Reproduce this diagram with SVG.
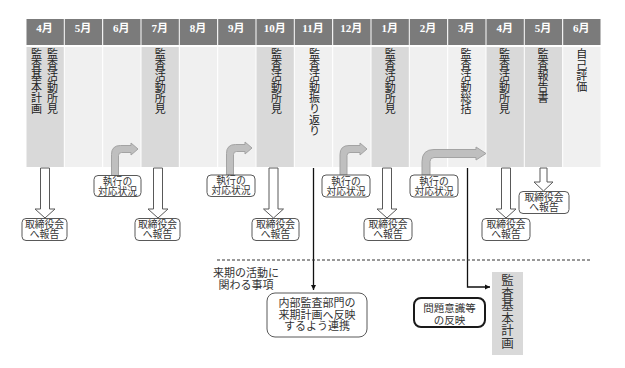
<svg xmlns="http://www.w3.org/2000/svg" width="625" height="368" viewBox="0 0 625 368">
<style>
.hd{fill:#7b7b7b}
.lt{fill:#f0f0f0}
.dk{fill:#d9d9d9}
.ht{font-family:"Liberation Serif","Noto Sans CJK JP",serif;font-size:11px;font-weight:bold;fill:#fff;text-anchor:middle}
.vt{font-family:"Noto Sans CJK JP",sans-serif;font-size:11px;fill:#222;writing-mode:vertical-rl}
.bx{fill:#fff;stroke:#595959;stroke-width:1}
.bt{font-family:"Noto Sans CJK JP",sans-serif;font-size:9.8px;fill:#333;text-anchor:middle}
.da{fill:#fff;stroke:#595959;stroke-width:1}
.ba{fill:#bfbfbf;stroke:#a3a3a3;stroke-width:1}
.ln{fill:none;stroke:#111;stroke-width:1.3}
.tx{font-family:"Noto Sans CJK JP",sans-serif;font-size:11px;fill:#333;text-anchor:middle}
</style>
<defs>
<marker id="ah" markerWidth="6" markerHeight="6" refX="5" refY="3" orient="auto" markerUnits="userSpaceOnUse">
<path d="M0,0.5 L5,3 L0,5.5 Z" fill="#111"/>
</marker>
</defs>
<rect width="625" height="368" fill="#fff"/>
<g id="timeline">
<rect class="hd" x="26.5" y="19" width="37.3" height="26"/>
<rect class="hd" x="64.8" y="19" width="37.3" height="26"/>
<rect class="hd" x="103.2" y="19" width="37.3" height="26"/>
<rect class="hd" x="141.5" y="19" width="37.3" height="26"/>
<rect class="hd" x="179.8" y="19" width="37.3" height="26"/>
<rect class="hd" x="218.2" y="19" width="37.3" height="26"/>
<rect class="hd" x="256.5" y="19" width="37.3" height="26"/>
<rect class="hd" x="294.8" y="19" width="37.3" height="26"/>
<rect class="hd" x="333.2" y="19" width="37.3" height="26"/>
<rect class="hd" x="371.5" y="19" width="37.3" height="26"/>
<rect class="hd" x="409.8" y="19" width="37.3" height="26"/>
<rect class="hd" x="448.2" y="19" width="37.3" height="26"/>
<rect class="hd" x="486.5" y="19" width="37.3" height="26"/>
<rect class="hd" x="524.8" y="19" width="37.3" height="26"/>
<rect class="hd" x="563.2" y="19" width="37.3" height="26"/>
<text class="ht" x="44.5" y="32">4月</text>
<text class="ht" x="83" y="32">5月</text>
<text class="ht" x="121.3" y="32">6月</text>
<text class="ht" x="159.7" y="32">7月</text>
<text class="ht" x="198" y="32">8月</text>
<text class="ht" x="236.3" y="32">9月</text>
<text class="ht" x="274.7" y="32">10月</text>
<text class="ht" x="313" y="32">11月</text>
<text class="ht" x="351.3" y="32">12月</text>
<text class="ht" x="389.7" y="32">1月</text>
<text class="ht" x="428" y="32">2月</text>
<text class="ht" x="466.3" y="32">3月</text>
<text class="ht" x="504.7" y="32">4月</text>
<text class="ht" x="543" y="32">5月</text>
<text class="ht" x="581.3" y="32">6月</text>
<rect class="dk" x="26.5" y="47" width="37.3" height="120"/>
<rect class="lt" x="64.8" y="47" width="37.3" height="120"/>
<rect class="lt" x="103.2" y="47" width="37.3" height="120"/>
<rect class="dk" x="141.5" y="47" width="37.3" height="120"/>
<rect class="lt" x="179.8" y="47" width="37.3" height="120"/>
<rect class="lt" x="218.2" y="47" width="37.3" height="120"/>
<rect class="dk" x="256.5" y="47" width="37.3" height="120"/>
<rect class="lt" x="294.8" y="47" width="37.3" height="120"/>
<rect class="lt" x="333.2" y="47" width="37.3" height="120"/>
<rect class="dk" x="371.5" y="47" width="37.3" height="120"/>
<rect class="lt" x="409.8" y="47" width="37.3" height="120"/>
<rect class="lt" x="448.2" y="47" width="37.3" height="120"/>
<rect class="dk" x="486.5" y="47" width="37.3" height="120"/>
<rect class="dk" x="524.8" y="47" width="37.3" height="120"/>
<rect class="lt" x="563.2" y="47" width="37.3" height="120"/>
<text class="vt" x="36.5" y="48">監査基本計画</text>
<text class="vt" x="52.5" y="48">監査活動所見</text>
<text class="vt" x="160.2" y="48">監査活動所見</text>
<text class="vt" x="276.5" y="48">監査活動所見</text>
<text class="vt" x="314.5" y="48">監査活動振り返り</text>
<text class="vt" x="390.2" y="48">監査活動所見</text>
<text class="vt" x="466" y="48">監査活動総括</text>
<text class="vt" x="504.5" y="48">監査活動所見</text>
<text class="vt" x="543" y="48">監査報告書</text>
<text class="vt" x="581.8" y="48">自己評価</text>
</g>
<g id="connectors">
<path class="da" d="M40.5 168H49.5V209H55L45 218L35 209H40.5Z"/>
<path class="da" d="M153.5 168H162.5V209H168L158 218L148 209H153.5Z"/>
<path class="da" d="M269 168H278V209H283.5L273.5 218L263.5 209H269Z"/>
<path class="da" d="M382.5 168H391.5V209H397L387 218L377 209H382.5Z"/>
<path class="da" d="M501.5 168H510.5V209H516L506 218L496 209H501.5Z"/>
<path class="da" d="M540 168H547V182H553L543.5 191L534 182H540Z"/>
<path class="ba" d="M111.5 176V154.5Q111.5 145.5 120.5 145.5H131V143L138 149L131 155V152.5H121.5Q118.5 152.5 118.5 155.5V176Z"/>
<path class="ba" d="M226.5 175V153.5Q226.5 144.5 235.5 144.5H245V142L252 148L245 154V151.5H236.5Q233.5 151.5 233.5 154.5V175Z"/>
<path class="ba" d="M340 175V154.5Q340 145.5 349 145.5H360V143L367 149L360 155V152.5H350Q347 152.5 347 155.5V175Z"/>
<path class="ba" d="M422 175V161.5Q422 149.5 434 149.5H476V147L486 153.5L476 160V157.5H434Q430 157.5 430 161.5V175Z"/>
<path class="ln" d="M313.5 168V290" marker-end="url(#ah)"/>
<path class="ln" d="M467.5 168V287H490" marker-end="url(#ah)"/>
<path d="M217 260H592" fill="none" stroke="#333" stroke-width="1" stroke-dasharray="3,2"/>
</g>
<g id="report1"><rect class="bx" x="22" y="218.5" width="45" height="22" rx="4"/><text class="bt" x="44.5" y="228">取締役会<tspan x="44.5" dy="10">へ報告</tspan></text></g>
<g id="report2"><rect class="bx" x="135" y="218.5" width="45" height="22" rx="4"/><text class="bt" x="157.5" y="228">取締役会<tspan x="157.5" dy="10">へ報告</tspan></text></g>
<g id="report3"><rect class="bx" x="252" y="218.5" width="47" height="22" rx="4"/><text class="bt" x="275.5" y="228">取締役会<tspan x="275.5" dy="10">へ報告</tspan></text></g>
<g id="report4"><rect class="bx" x="364" y="218.5" width="48" height="22" rx="4"/><text class="bt" x="388" y="228">取締役会<tspan x="388" dy="10">へ報告</tspan></text></g>
<g id="report5"><rect class="bx" x="482" y="218.5" width="48" height="22" rx="4"/><text class="bt" x="506" y="228">取締役会<tspan x="506" dy="10">へ報告</tspan></text></g>
<g id="report6"><rect class="bx" x="519" y="191.5" width="50" height="22" rx="4"/><text class="bt" x="544" y="201">取締役会<tspan x="544" dy="10">へ報告</tspan></text></g>
<g id="exec1"><rect class="bx" x="94" y="175.5" width="47" height="21" rx="4"/><text class="bt" x="117.5" y="184.5">執行の<tspan x="117.5" dy="10">対応状況</tspan></text></g>
<g id="exec2"><rect class="bx" x="207" y="175" width="48" height="21.5" rx="4"/><text class="bt" x="231" y="184.2">執行の<tspan x="231" dy="10">対応状況</tspan></text></g>
<g id="exec3"><rect class="bx" x="322" y="175" width="48" height="22" rx="4"/><text class="bt" x="346" y="184.5">執行の<tspan x="346" dy="10">対応状況</tspan></text></g>
<g id="exec4"><rect class="bx" x="410" y="175" width="48" height="22" rx="4"/><text class="bt" x="434" y="184.5">執行の<tspan x="434" dy="10">対応状況</tspan></text></g>
<g id="nextterm"><text class="tx" x="246" y="277">来期の活動に<tspan x="246" dy="11.5">関わる事項</tspan></text></g>
<g id="internal"><rect class="bx" x="267" y="293" width="100" height="44" rx="8"/><text class="tx" x="317" y="307">内部監査部門の<tspan x="317" dy="11.5">来期計画へ反映</tspan><tspan x="317" dy="11.5">するよう連携</tspan></text></g>
<g id="issues"><rect x="414" y="298" width="71" height="29" rx="7" fill="#fff" stroke="#1a1a1a" stroke-width="2"/><text class="tx" x="449.5" y="311.5" style="font-size:10.5px">問題意識等<tspan x="449.5" dy="12">の反映</tspan></text></g>
<g id="plan"><rect x="492" y="272" width="31" height="83" fill="#d9d9d9"/><text class="vt" x="507.5" y="274" style="font-size:12.5px;fill:#333">監査基本計画</text></g>
</svg>
